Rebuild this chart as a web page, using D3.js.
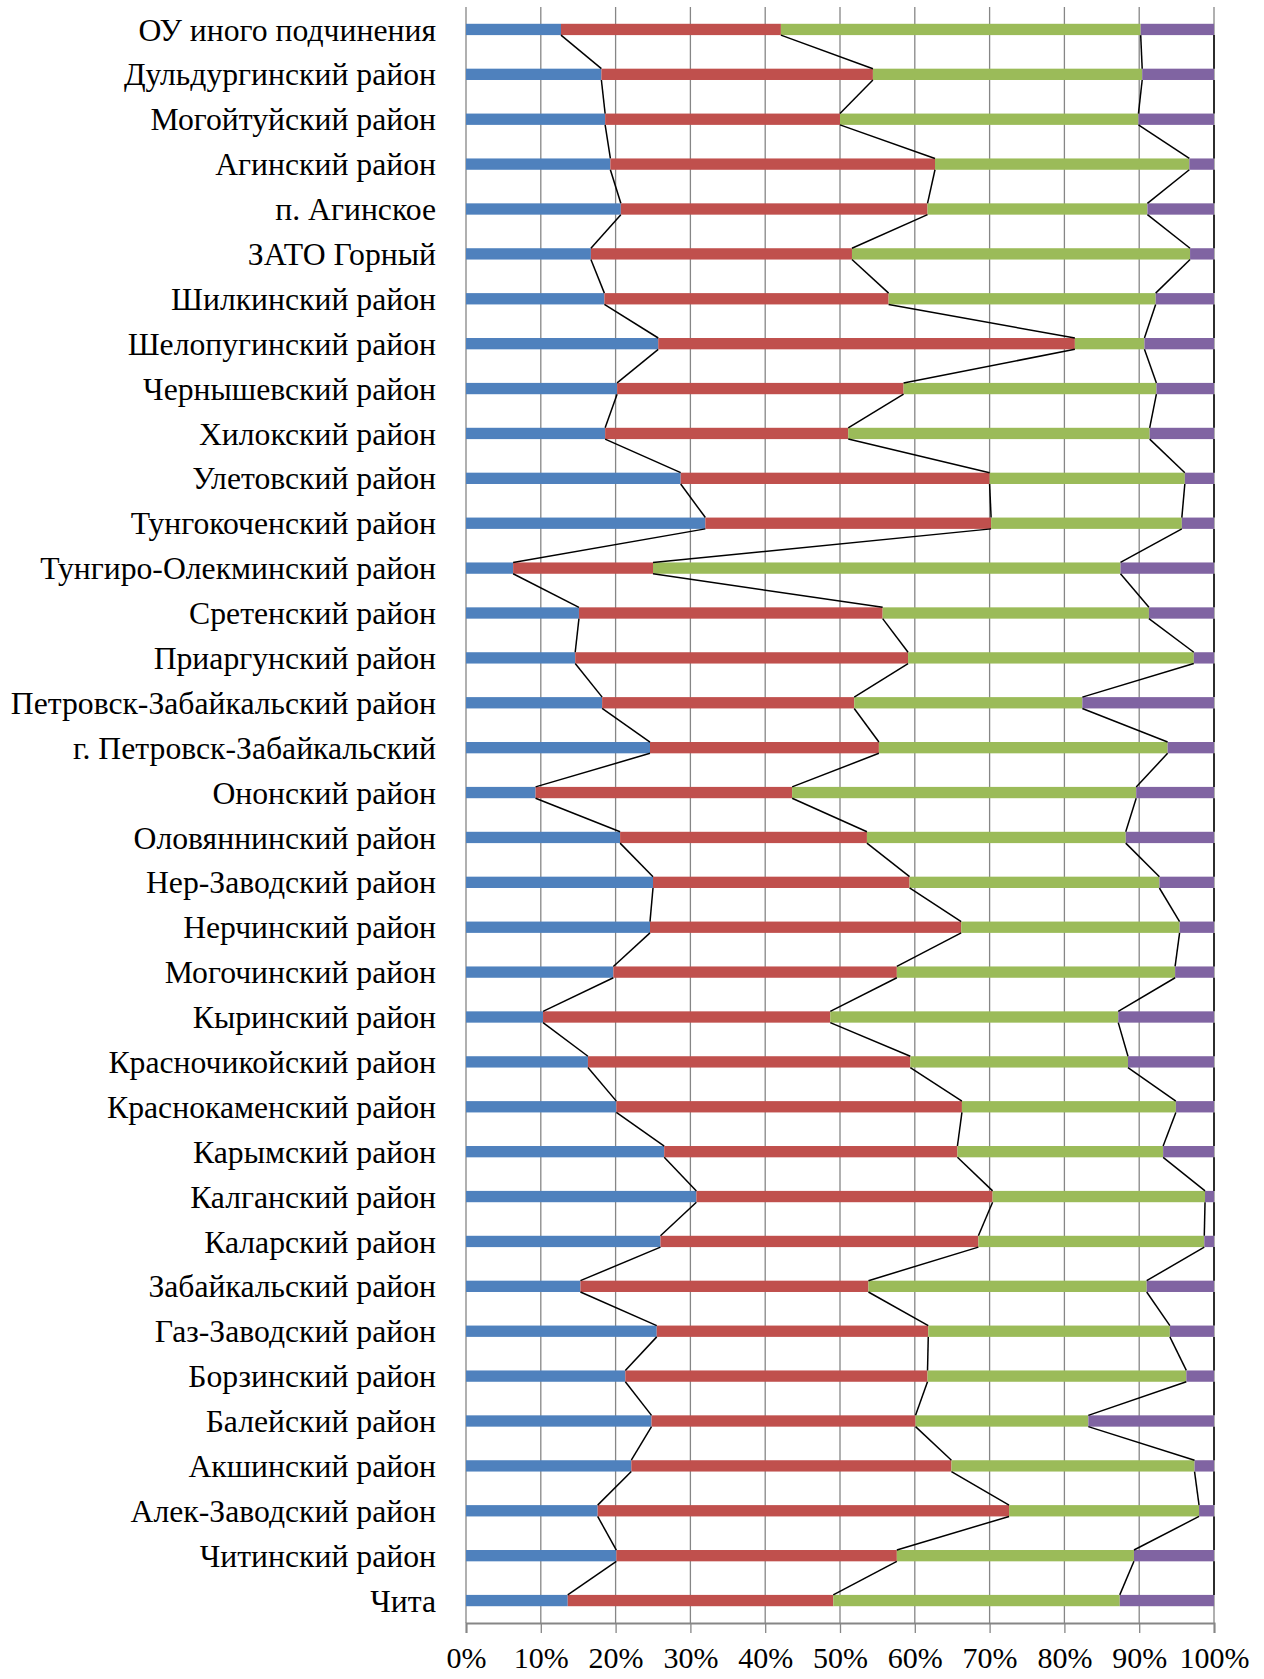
<!DOCTYPE html>
<html lang="ru">
<head>
    <meta charset="UTF-8">
    <title>Распределение по районам</title>
    <style>
        body { margin: 0; background: #fff; }
        svg text { font-family: 'Liberation Serif', 'Times New Roman', serif; fill: #000; }
    </style>
</head>
<body>
    <div id="container"></div>
    <script src="https://d3js.org/d3.v7.min.js"></script>
    <script>
        // categories, top to bottom as in the picture
        const categories = [
            'ОУ иного подчинения', 'Дульдургинский район', 'Могойтуйский район', 'Агинский район',
            'п. Агинское', 'ЗАТО Горный', 'Шилкинский район', 'Шелопугинский район',
            'Чернышевский район', 'Хилокский район', 'Улетовский район', 'Тунгокоченский район',
            'Тунгиро-Олекминский район', 'Сретенский район', 'Приаргунский район',
            'Петровск-Забайкальский район', 'г. Петровск-Забайкальский', 'Ононский район',
            'Оловяннинский район', 'Нер-Заводский район', 'Нерчинский район', 'Могочинский район',
            'Кыринский район', 'Красночикойский район', 'Краснокаменский район', 'Карымский район',
            'Калганский район', 'Каларский район', 'Забайкальский район', 'Газ-Заводский район',
            'Борзинский район', 'Балейский район', 'Акшинский район', 'Алек-Заводский район',
            'Читинский район', 'Чита'
        ];

        // share of each series, %
        const series1 = [12.7, 18.1, 18.6, 19.3, 20.7, 16.7, 18.5, 25.7, 20.2, 18.6, 28.7, 32.0,
                         6.3, 15.1, 14.6, 18.2, 24.6, 9.3, 20.6, 25.0, 24.6, 19.7, 10.3, 16.3,
                         20.1, 26.5, 30.8, 26.0, 15.3, 25.5, 21.3, 24.8, 22.1, 17.6, 20.1, 13.6];
        const series2 = [29.4, 36.3, 31.4, 43.4, 41.0, 34.9, 38.0, 55.7, 38.3, 32.5, 41.3, 38.2,
                         18.7, 40.6, 44.5, 33.7, 30.6, 34.3, 33.0, 34.3, 41.6, 37.9, 38.4, 43.1,
                         46.2, 39.2, 39.6, 42.5, 38.5, 36.3, 40.4, 35.3, 42.8, 55.0, 37.5, 35.5];
        const series3 = [48.1, 36.0, 39.9, 34.0, 29.4, 45.2, 35.7, 9.3, 33.8, 40.3, 26.1, 25.5,
                         62.5, 35.6, 38.2, 30.5, 38.6, 46.0, 34.6, 33.4, 29.2, 37.2, 38.5, 29.1,
                         28.6, 27.5, 28.4, 30.2, 37.2, 32.3, 34.6, 23.1, 32.5, 25.4, 31.7, 38.3];
        const series4 = [9.8, 9.6, 10.1, 3.3, 8.9, 3.2, 7.8, 9.3, 7.7, 8.6, 3.9, 4.3,
                         12.5, 8.7, 2.7, 17.6, 6.2, 10.4, 11.8, 7.3, 4.6, 5.2, 12.8, 11.5,
                         5.1, 6.8, 1.2, 1.3, 9.0, 5.9, 3.7, 16.8, 2.6, 2.0, 10.7, 12.6];

        const tickValues = [0, 0.1, 0.2, 0.3, 0.4, 0.5, 0.6, 0.7, 0.8, 0.9, 1];

        const keys = ['s1', 's2', 's3', 's4'];
        const colors = ['#4F81BD', '#C0504D', '#9BBB59', '#8064A2'];

        const rows = categories.map((c, i) => ({
            name: c, s1: series1[i], s2: series2[i], s3: series3[i], s4: series4[i]
        }));

        const width = 1264, height = 1679;
        const svg = d3.select('#container').append('svg')
            .attr('width', width).attr('height', height);

        const x = d3.scaleLinear().domain([0, 1]).range([466, 1214]);
        const y = d3.scaleBand().domain(categories).range([7, 1623])
            .paddingInner(0.748).paddingOuter(0.374);

        const stack = d3.stack().keys(keys).offset(d3.stackOffsetExpand);
        const layers = stack(rows);

        // vertical gridlines
        svg.append('g').selectAll('line').data(tickValues).join('line')
            .attr('x1', d => x(d)).attr('x2', d => x(d))
            .attr('y1', 7).attr('y2', 1623)
            .attr('stroke', '#868686').attr('stroke-width', 1.3);

        // bars
        svg.append('g').selectAll('g').data(layers).join('g')
            .attr('fill', (d, i) => colors[i])
            .selectAll('rect').data(d => d).join('rect')
            .attr('x', d => x(d[0]))
            .attr('width', d => x(d[1]) - x(d[0]))
            .attr('y', d => y(d.data.name))
            .attr('height', y.bandwidth());

        // series lines between the ends of the segments
        const bw = y.bandwidth();
        const link = d3.line();
        layers.forEach(layer => {
            const segs = [];
            for (let i = 0; i < layer.length - 1; i++) {
                segs.push([
                    [x(layer[i][1]), y(layer[i].data.name) + bw],
                    [x(layer[i + 1][1]), y(layer[i + 1].data.name)]
                ]);
            }
            svg.append('g').selectAll('path').data(segs).join('path')
                .attr('d', link).attr('fill', 'none')
                .attr('stroke', '#000').attr('stroke-width', 1.5);
        });

        // x axis
        const xAxis = svg.append('g').attr('transform', 'translate(0,1623)')
            .call(d3.axisBottom(x).tickValues(tickValues).tickFormat(d3.format('.0%'))
                .tickSize(10).tickPadding(14));
        xAxis.select('.domain').attr('stroke', '#868686').attr('stroke-width', 2);
        xAxis.selectAll('.tick line').attr('stroke', '#868686').attr('stroke-width', 1.3);
        xAxis.selectAll('.tick text').attr('font-size', 30).attr('fill', '#000')
            .style('font-family', "'Liberation Serif', serif");

        // category labels
        svg.append('g').selectAll('text').data(categories).join('text')
            .attr('x', 436)
            .attr('y', d => y(d) + bw / 2)
            .attr('dy', '0.35em')
            .attr('text-anchor', 'end')
            .attr('font-size', 31.7)
            .text(d => d);
    </script>
</body>
</html>
